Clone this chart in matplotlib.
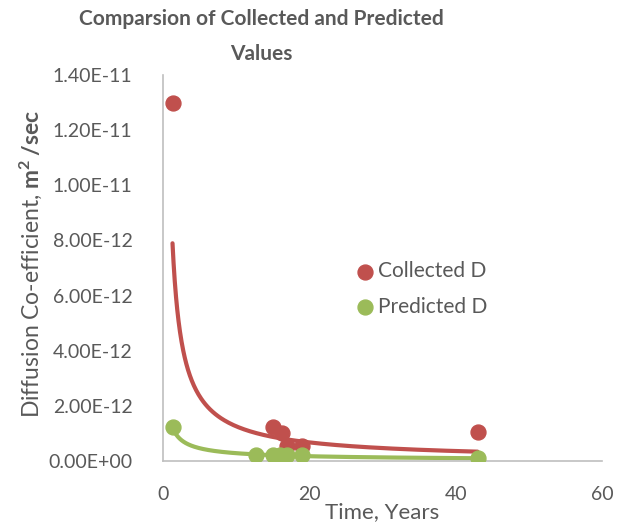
import numpy as np
import matplotlib
matplotlib.use("Agg")
import matplotlib.pyplot as plt
from matplotlib.ticker import FuncFormatter, MultipleLocator

# data
years_collected = [1.3, 15.0, 16.3, 16.9, 19.0, 43.0]
d_collected = [1.30e-11, 1.22e-12, 1.02e-12, 5.5e-13, 5.5e-13, 1.05e-12]
years_predicted = [1.3, 12.7, 15.0, 16.0, 17.0, 19.0, 43.0]
d_predicted = [1.22e-12, 2.3e-13, 2.2e-13, 2.2e-13, 2.2e-13, 2.2e-13, 1.0e-13]

# power trendlines (y = a * x^b), coefficients
trend_collected = (1.0e-11, -0.90)
trend_predicted = (1.46e-12, -0.712)

RED = "#C0504D"
GREEN = "#9BBB59"
TXT = "#595959"
AXIS = "#BFBFBF"

plt.rcParams["font.family"] = ["Lato", "DejaVu Sans"]
plt.rcParams["mathtext.fontset"] = "custom"
plt.rcParams["mathtext.rm"] = "Lato"
plt.rcParams["mathtext.bf"] = "Lato:bold"

fig = plt.figure(figsize=(6.26, 5.24), dpi=100)
ax = fig.add_axes([163 / 626, 1 - 461 / 524, 439 / 626, 386 / 524])

# trendlines
for xs, (a, b), color in [(years_collected, trend_collected, RED),
                          (years_predicted, trend_predicted, GREEN)]:
    xx = np.geomspace(min(xs), max(xs), 200)
    ax.plot(xx, a * xx ** b, color=color, lw=3, solid_capstyle="round", zorder=2)

ax.scatter(years_collected, d_collected, s=115, color=RED, label="Collected D", zorder=3)
ax.scatter(years_predicted, d_predicted, s=115, color=GREEN, label="Predicted D", zorder=3)

ax.set_xlim(0, 60)
ax.set_ylim(0, 1.4e-11)
ax.xaxis.set_major_locator(MultipleLocator(20))
ax.yaxis.set_major_locator(MultipleLocator(2e-12))
ax.yaxis.set_major_formatter(FuncFormatter(lambda v, p: f"{v:.2E}"))

for s in ["top", "right"]:
    ax.spines[s].set_visible(False)
for s in ["left", "bottom"]:
    ax.spines[s].set_color(AXIS)
    ax.spines[s].set_linewidth(1.2)
ax.tick_params(length=0, labelsize=14, labelcolor=TXT)
ax.tick_params(axis="y", pad=22)
ax.tick_params(axis="x", pad=18)

ax.set_xlabel("Time, Years", fontsize=16, color=TXT)
ax.xaxis.set_label_coords(0.5, -(512 - 461) / 386)
ax.xaxis.label.set_va("center")

ax.set_ylabel(r"Diffusion Co-efficient, $\mathbf{m^2\,/sec}$", fontsize=16.5, color=TXT)
ax.yaxis.set_label_coords(-(163 - 31) / 439, (461 - 264) / 386)
ax.yaxis.label.set_va("center")

# title
ax.set_title("Comparsion of Collected and Predicted\nValues", fontsize=15,
             fontweight="bold", color=TXT, linespacing=1.9,
             x=(261 - 163) / 439, y=(461 - 45) / 386, va="center")

leg = ax.legend(loc="center left", bbox_to_anchor=(336 / 626, 1 - 289 / 524),
                bbox_transform=fig.transFigure, frameon=False, fontsize=15,
                handletextpad=-0.4, labelspacing=0.75, borderaxespad=0)
for t in leg.get_texts():
    t.set_color(TXT)

fig.savefig("out.png", dpi=100)
